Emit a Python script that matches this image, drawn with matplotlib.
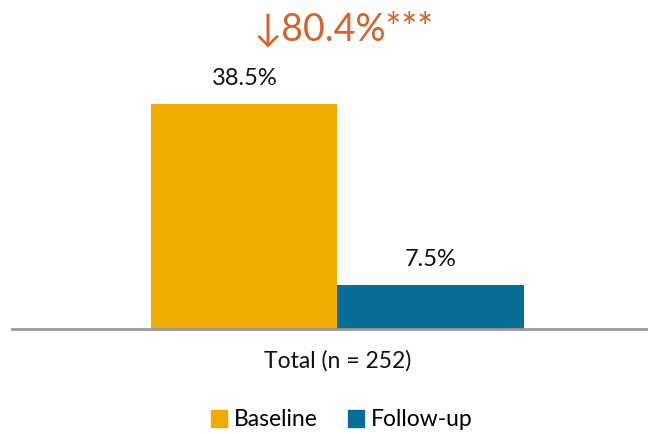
import matplotlib.pyplot as plt
from matplotlib.patches import Patch

# data
groups = ["Baseline", "Follow-up"]
values = [38.5, 7.5]
value_labels = ["38.5%", "7.5%"]
category = "Total (n = 252)"
change_label = "\u219380.4%***"

colors = ["#F0AB00", "#066E97"]
font = ["Lato", "DejaVu Sans"]

fig = plt.figure(figsize=(6.48, 4.34), dpi=100)
ax = fig.add_axes([12/648, 105/434, 636/648, 269/434])

xpos = [0, 1]
ax.bar(xpos, values, width=1.0, color=colors, align="center")
for x, v, lab in zip(xpos, values, value_labels):
    ax.text(x, v + 4.4, lab, ha="center", va="center", fontsize=17, family=font, color="#111111")

ax.set_xlim(-1.247, 2.167)
ax.set_ylim(0, 46.06)
for s in ["top", "right", "left"]:
    ax.spines[s].set_visible(False)
ax.spines["bottom"].set_color("#999999")
ax.spines["bottom"].set_linewidth(2)
ax.set_xticks([])
ax.set_yticks([])

fig.text(344/648, 1 - 29/434, change_label, ha="center", va="center",
         fontsize=27, family=font, color="#D4622A")
fig.text(338/648, 1 - 361/434, category, ha="center", va="center",
         fontsize=16.5, family=font, color="#111111")

handles = [Patch(color=c, label=g) for c, g in zip(colors, groups)]
fig.legend(handles=handles, loc="center", bbox_to_anchor=(342/648, 1 - 420/434),
           ncol=2, frameon=False, handlelength=0.7, handleheight=0.7,
           handletextpad=0.3, columnspacing=1.3, prop={"family": font, "size": 16.5})

fig.savefig("out.png", dpi=100)
